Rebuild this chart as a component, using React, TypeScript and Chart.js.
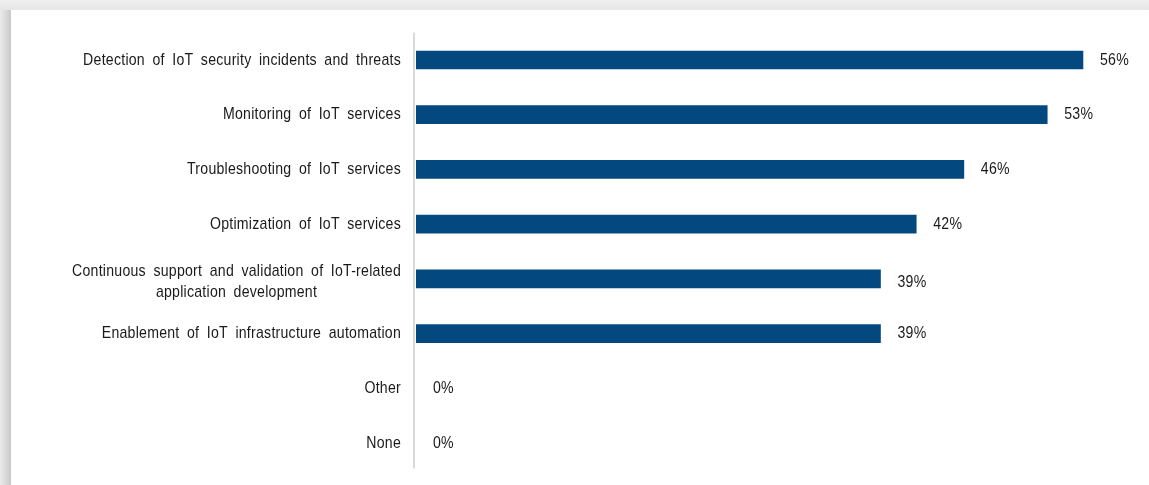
import React, { useEffect, useRef } from "react";
import { Chart, registerables } from "chart.js";

Chart.register(...registerables);

const categories: string[][] = [
  ["Detection of IoT security incidents and threats"],
  ["Monitoring of IoT services"],
  ["Troubleshooting of IoT services"],
  ["Optimization of IoT services"],
  ["Continuous support and validation of IoT-related", "application development"],
  ["Enablement of IoT infrastructure automation"],
  ["Other"],
  ["None"],
];
const values: number[] = [56, 53, 46, 42, 39, 39, 0, 0];
const valueLabels: string[] = values.map((v) => `${v}%`);

const FONT_FAMILY = "'Liberation Sans', Arial, sans-serif";
const BAR_COLOR = "#03487e";
const TEXT_COLOR = "#1a1a1a";
const SX = 0.83;

function drawText(ctx: any, text: string, x: number, y: number, align: string) {
  ctx.save();
  ctx.translate(x, y);
  ctx.scale(SX, 1);
  ctx.textAlign = align;
  ctx.fillText(text, 0, 0);
  ctx.restore();
}

const labelPlugin = {
  id: "customLabels",
  beforeDatasetsDraw(chart: any) {
    const { ctx, chartArea } = chart;
    ctx.save();
    ctx.fillStyle = "#d9d9d9";
    ctx.fillRect(chartArea.left - 3, chartArea.top, 2, chartArea.bottom - chartArea.top - 2);
    ctx.restore();
  },
  afterDatasetsDraw(chart: any) {
    const { ctx, chartArea } = chart;
    const meta = chart.getDatasetMeta(0);
    ctx.save();
    ctx.fillStyle = TEXT_COLOR;
    ctx.textBaseline = "middle";
    ctx.font = `17px ${FONT_FAMILY}`;
    try {
      (ctx as any).letterSpacing = "0.3px";
      (ctx as any).wordSpacing = "4px";
    } catch (e) {}
    meta.data.forEach((bar: any, i: number) => {
      const y = bar.y;
      const vy = categories[i].length > 1 ? y + 3 : y;
      drawText(ctx, valueLabels[i], bar.x + 17, vy, "left");
      const lines = categories[i];
      const rightX = chartArea.left - 15;
      if (lines.length === 1) {
        drawText(ctx, lines[0], rightX, y, "right");
      } else {
        const widths = lines.map((l) => ctx.measureText(l).width * SX);
        const maxW = Math.max(...widths);
        const cx = rightX - maxW / 2;
        const lh = 21;
        const startY = y + 2.5 - ((lines.length - 1) * lh) / 2;
        lines.forEach((l, k) => drawText(ctx, l, cx, startY + k * lh, "center"));
      }
    });
    ctx.restore();
  },
};

export default function App() {
  const canvasRef = useRef<HTMLCanvasElement | null>(null);

  useEffect(() => {
    if (!canvasRef.current) return;
    const chart = new Chart(canvasRef.current, {
      type: "bar",
      data: {
        labels: categories.map((c) => c.join(" ")),
        datasets: [
          {
            data: values,
            backgroundColor: values.map((v) => (v > 0 ? BAR_COLOR : "rgba(0,0,0,0)")),
            borderWidth: 0,
            barThickness: 18,
          },
        ],
      },
      options: {
        indexAxis: "y",
        animation: false,
        responsive: false,
        maintainAspectRatio: false,
        layout: { padding: { left: 416, right: 18.4, top: 32.6, bottom: 14.6 } },
        scales: {
          x: { display: false, min: 0, max: 60 },
          y: { display: false, grid: { display: false } },
        },
        plugins: {
          legend: { display: false },
          tooltip: { enabled: false },
        },
      },
      plugins: [labelPlugin],
    });
    return () => chart.destroy();
  }, []);

  return (
    <div
      style={{
        position: "fixed",
        left: 0,
        top: 0,
        width: 1149,
        height: 485,
        background: "#ececec",
        overflow: "hidden",
      }}
    >
      <div
        style={{
          position: "absolute",
          left: 0,
          top: 0,
          width: 11,
          height: 485,
          background: "linear-gradient(to right, #ebebeb, #c9c9c9)",
        }}
      />
      <div
        style={{
          position: "absolute",
          left: 0,
          top: 0,
          width: 1149,
          height: 10,
          background: "linear-gradient(to bottom, #f0f0f0, #e6e6e6)",
        }}
      />
      <div
        style={{
          position: "absolute",
          left: 11,
          top: 10,
          width: 1138,
          height: 475,
          background: "#ffffff",
        }}
      />
      <canvas
        ref={canvasRef}
        width={1149}
        height={485}
        style={{ position: "absolute", left: 0, top: 0, width: 1149, height: 485 }}
      />
    </div>
  );
}
